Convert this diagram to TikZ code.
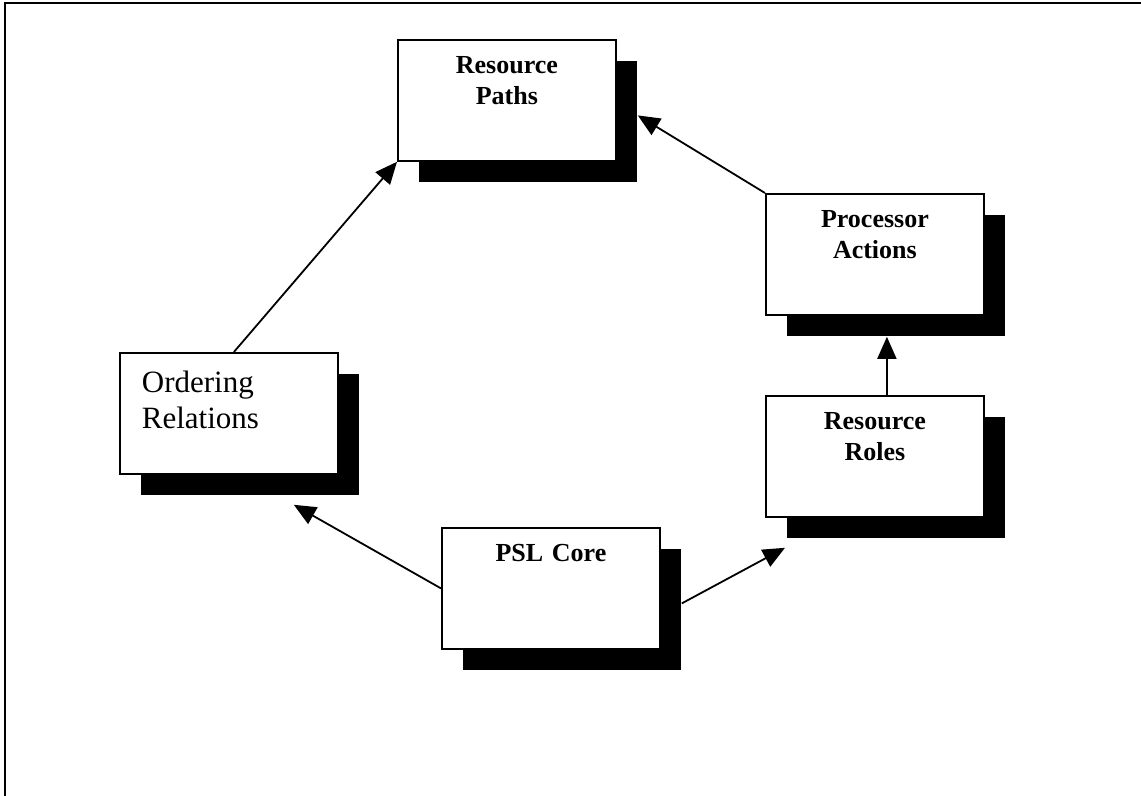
\documentclass[tikz,border=0pt]{standalone}
\usepackage{fontspec}
\setmainfont{Liberation Serif}
\usepackage{tikz}
\usetikzlibrary{arrows.meta}
\usetikzlibrary{shadows}
\usetikzlibrary{positioning}

\begin{document}
\begin{tikzpicture}[x=0.5pt,y=-0.5pt]
    % box width and shadow offset
    \def\wmod{109pt}
    \def\shd{10.5pt}
    \tikzset{
        module/.style={draw,line width=0.9pt,fill=white,inner sep=0pt,
            text width=\wmod,text height=17pt,text depth=43.5pt,align=center,
            font=\fontsize{13}{15.5}\selectfont\bfseries,
            general shadow={fill=black,shadow xshift=\shd,shadow yshift=-\shd}},
        plainmodule/.style={module,font=\fontsize{15.5}{18}\selectfont,
            align=left,inner xsep=11pt,text width=87pt,text height=20pt,text depth=40.5pt},
        link/.style={-{Triangle[length=11pt,width=9.5pt]},line width=0.9pt}
    }
    \useasboundingbox (0,0) rectangle (1141,796);

    % frame
    \draw[line width=1.2pt] (5,796) -- (5,3) -- (1141,3);

    % modules
    \node[module,anchor=north west] (paths) at (397,39)  {Resource\\Paths};
    \node[module,anchor=north west] (act)   at (765,193) {Processor\\Actions};
    \node[module,anchor=north west] (roles) at (765,395) {Resource\\Roles};
    \node[plainmodule,anchor=north west] (ord) at (119,352) {Ordering\\Relations};
    \node[module,anchor=north west] (core)  at (441,527) {PSL Core};

    % connectors
    \draw[link] ([xshift=2.5pt]ord.north) -- (paths.south west);
    \draw[link] (act.north west) -- ([shift={(21,15)}]paths.east);
    \draw[link] ([shift={(12,0)}]roles.north) -- ([shift={(12,21)}]act.south);
    \draw[link] (core.west) -- ([shift={(-45,30)}]ord.south east);
    \draw[link] ([shift={(21,15)}]core.east) -- ([shift={(20,30)}]roles.south west);
\end{tikzpicture}
\end{document}
